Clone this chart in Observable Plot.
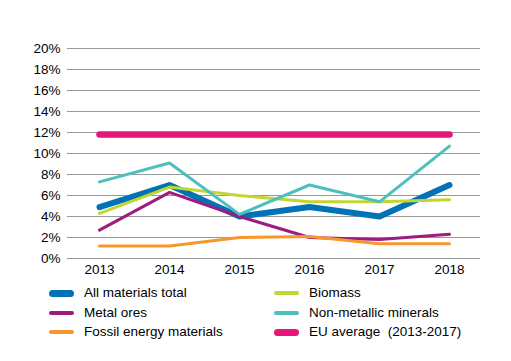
<!DOCTYPE html>
<html><head><meta charset="utf-8">
<script src="https://cdn.jsdelivr.net/npm/d3@7"></script>
<script src="https://cdn.jsdelivr.net/npm/@observablehq/plot@0.6"></script>
<style>
body{margin:0;background:#fff;font-family:"Liberation Sans",Arial,sans-serif;}
#wrap{position:relative;width:511px;height:361px;}
.leg{position:absolute;font-size:13.5px;color:#000;display:flex;align-items:center;white-space:pre;line-height:1;}
.sw{display:inline-block;width:25px;border-radius:4px;margin-right:10px;}
</style></head>
<body><div id="wrap"></div>
<script>
const years = [2013, 2014, 2015, 2016, 2017, 2018];
const allMaterials = [4.9, 7.0, 4.0, 4.9, 4.0, 7.0];
const biomass = [4.3, 6.8, 6.0, 5.4, 5.4, 5.6];
const metalOres = [2.7, 6.3, 4.0, 2.0, 1.8, 2.3];
const nonMetallic = [7.3, 9.1, 4.2, 7.0, 5.4, 10.7];
const fossil = [1.2, 1.2, 2.0, 2.1, 1.4, 1.4];
const euAverage = [11.8, 11.8, 11.8, 11.8, 11.8, 11.8];
const yTicks = [0, 2, 4, 6, 8, 10, 12, 14, 16, 18, 20];

const series = [
  {name: "All materials total", values: allMaterials, color: "#0072b5", width: 6, sw: 7},
  {name: "Biomass", values: biomass, color: "#c3d52f", width: 3, sw: 4},
  {name: "Metal ores", values: metalOres, color: "#9c1c80", width: 3, sw: 4},
  {name: "Non-metallic minerals", values: nonMetallic, color: "#4dbfbd", width: 3, sw: 4},
  {name: "Fossil energy materials", values: fossil, color: "#f7962d", width: 3, sw: 4},
  {name: "EU average  (2013-2017)", values: euAverage, color: "#e5167a", width: 6.5, sw: 7}
];
const rows = series.map(s => years.map((y, i) => ({year: y, value: s.values[i], name: s.name})));

const plot = Plot.plot({
  width: 511, height: 282,
  marginLeft: 67, marginRight: 31, marginTop: 48, marginBottom: 24,
  style: {fontFamily: "'Liberation Sans', Arial, sans-serif", fontSize: "13.5px", color: "#000", background: "#fff"},
  x: {type: "point", domain: years, padding: 0.43, tickSize: 0, tickPadding: 6, label: null, tickFormat: d => String(d)},
  y: {domain: [0, 20], ticks: yTicks, tickSize: 0, tickPadding: 7, tickFormat: d => d + "%", label: null},
  marks: [
    Plot.ruleY(yTicks, {stroke: "#999", strokeWidth: 1}),
    ...rows.map((r, i) => Plot.line(r, {x: "year", y: "value", stroke: series[i].color, strokeWidth: series[i].width, strokeLinecap: "round", strokeLinejoin: "round"}))
  ]
});
const wrap = document.getElementById("wrap");
wrap.appendChild(plot);

const order = [0, 2, 4, 1, 3, 5];
const rowY = [293, 313, 332];
order.forEach((si, k) => {
  const s = series[si];
  const col = Math.floor(k / 3), row = k % 3;
  const d = document.createElement("div");
  d.className = "leg";
  d.style.left = (col === 0 ? 49 : 274) + "px";
  d.style.top = (rowY[row] - 8) + "px";
  d.style.height = "16px";
  const sw = document.createElement("span");
  sw.className = "sw";
  sw.style.height = s.sw + "px";
  sw.style.background = s.color;
  d.appendChild(sw);
  d.appendChild(document.createTextNode(s.name));
  wrap.appendChild(d);
});
</script></body></html>
